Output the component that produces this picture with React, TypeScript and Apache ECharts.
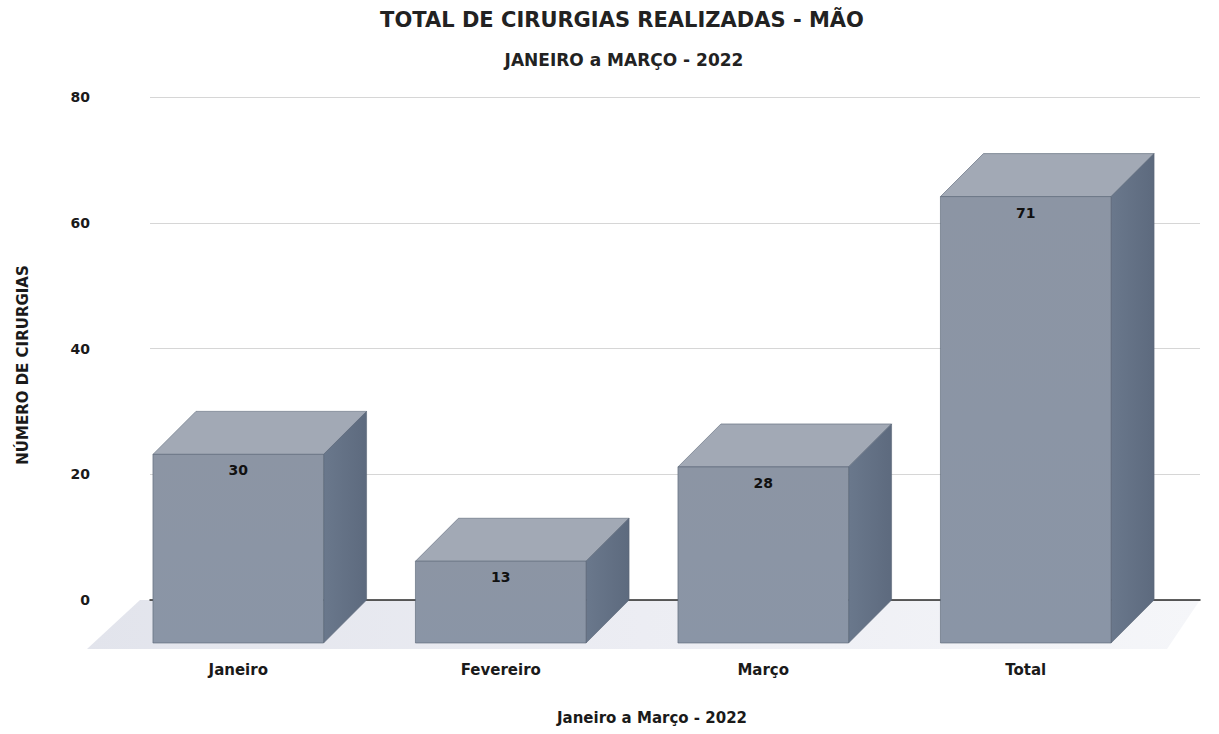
import React, { useEffect, useRef } from "react";
import * as echarts from "echarts";

const categories = ["Janeiro", "Fevereiro", "Março", "Total"];
const values = [30, 13, 28, 71];
const yTicks = [0, 20, 40, 60, 80];

const TITLE = "TOTAL DE CIRURGIAS REALIZADAS - MÃO";
const SUBTITLE = "JANEIRO a MARÇO - 2022";
const X_NAME = "Janeiro a Março - 2022";
const Y_NAME = "NÚMERO DE CIRURGIAS";

const DEPTH = 43;
const HEAVY = '"DejaVu Sans", "Liberation Sans", sans-serif';

export default function App() {
  const ref = useRef<HTMLDivElement>(null);
  useEffect(() => {
    if (!ref.current) return;
    const chart = echarts.init(ref.current, undefined, { renderer: "svg" });
    const option: any = {
      animation: false,
      backgroundColor: "#ffffff",
      grid: { left: 150, right: 19, top: 97, bottom: 134, containLabel: false },
      xAxis: {
        type: "category",
        data: categories,
        axisLine: { show: true, lineStyle: { color: "#2a2a2a", width: 1.5 } },
        axisTick: { show: false },
        axisLabel: { show: false },
        splitLine: { show: false },
      },
      yAxis: {
        type: "value",
        min: yTicks[0],
        max: yTicks[yTicks.length - 1],
        interval: 20,
        axisLine: { show: false },
        axisTick: { show: false },
        axisLabel: {
          margin: 60,
          color: "#1a1a1a",
          fontFamily: HEAVY,
          fontWeight: "bold",
          fontSize: 14,
        },
        splitLine: { lineStyle: { color: "#d6d6d6", width: 1 } },
      },
      graphic: [
        {
          type: "text",
          x: 622,
          y: 20,
          style: {
            text: TITLE,
            font: 'bold 21px ' + HEAVY,
            fill: "#222",
            align: "center",
            verticalAlign: "middle",
            textAlign: "center",
            textVerticalAlign: "middle",
          },
        },
        {
          type: "text",
          x: 624,
          y: 60,
          style: {
            text: SUBTITLE,
            font: 'bold 17px ' + HEAVY,
            fill: "#222",
            align: "center",
            verticalAlign: "middle",
            textAlign: "center",
            textVerticalAlign: "middle",
          },
        },
        {
          type: "text",
          x: 652,
          y: 718,
          style: {
            text: X_NAME,
            font: 'bold 15px ' + HEAVY,
            fill: "#1a1a1a",
            align: "center",
            verticalAlign: "middle",
            textAlign: "center",
            textVerticalAlign: "middle",
          },
        },
        {
          type: "text",
          x: 23,
          y: 365,
          rotation: Math.PI / 2,
          style: {
            text: Y_NAME,
            font: 'bold 15px ' + HEAVY,
            fill: "#1a1a1a",
            align: "center",
            verticalAlign: "middle",
            textAlign: "center",
            textVerticalAlign: "middle",
          },
        },
      ],
      series: [
        {
          type: "custom",
          z: -1,
          silent: true,
          data: [[0, 0]],
          renderItem: (params: any, api: any) => {
            const cs = params.coordSys;
            const y0 = api.coord([0, 0])[1];
            const xl = cs.x - 10;
            const xr = cs.x + cs.width;
            return {
              type: "polygon",
              shape: {
                points: [
                  [xl, y0],
                  [xr, y0],
                  [xr - DEPTH + 10, y0 + DEPTH + 6],
                  [xl - DEPTH - 10, y0 + DEPTH + 6],
                ],
              },
              style: {
                fill: new echarts.graphic.LinearGradient(0, 0, 1, 0, [
                  { offset: 0, color: "#e2e4ec" },
                  { offset: 0.5, color: "#ecedf3" },
                  { offset: 1, color: "#f5f6f9" },
                ]),
                stroke: null,
              },
            };
          },
        },
        {
          type: "custom",
          z: 3,
          data: values.map((v, i) => [i, v]),
          renderItem: (params: any, api: any) => {
            const idx = api.value(0);
            const val = api.value(1);
            const top = api.coord([idx, val]);
            const base = api.coord([idx, 0]);
            const w = api.size([1, 0])[0] * 0.65;
            const bx0 = top[0] - w / 2;
            const bx1 = top[0] + w / 2;
            const fx0 = bx0 - DEPTH;
            const fx1 = bx1 - DEPTH;
            const fyTop = top[1] + DEPTH;
            const fyBot = base[1] + DEPTH;
            const by = top[1];
            const bb = base[1];
            const edge = { stroke: "#596476", lineWidth: 0.6 };
            return {
              type: "group",
              children: [
                {
                  type: "polygon",
                  shape: { points: [[bx0, by], [bx1, by], [fx1, fyTop], [fx0, fyTop]] },
                  style: { fill: "#a2a9b5", ...edge },
                },
                {
                  type: "polygon",
                  shape: { points: [[fx1, fyTop], [bx1, by], [bx1, bb], [fx1, fyBot]] },
                  style: {
                    fill: new echarts.graphic.LinearGradient(0, 0, 1, 0, [
                      { offset: 0, color: "#6a788c" },
                      { offset: 1, color: "#5d6a7e" },
                    ]),
                    ...edge,
                  },
                },
                {
                  type: "rect",
                  shape: { x: fx0, y: fyTop, width: w, height: fyBot - fyTop },
                  style: {
                    fill: new echarts.graphic.LinearGradient(0, 0, 0, 1, [
                      { offset: 0, color: "#8c95a4" },
                      { offset: 1, color: "#8a95a6" },
                    ]),
                    ...edge,
                  },
                },
                {
                  type: "text",
                  x: fx0 + w / 2,
                  y: fyTop + 16,
                  style: {
                    text: String(values[idx]),
                    font: "bold 14px " + HEAVY,
                    fill: "#111",
                    align: "center",
                    verticalAlign: "middle",
                  },
                },
                {
                  type: "text",
                  x: fx0 + w / 2,
                  y: fyBot + 27,
                  style: {
                    text: categories[idx],
                    font: "bold 15px " + HEAVY,
                    fill: "#1a1a1a",
                    align: "center",
                    verticalAlign: "middle",
                  },
                },
              ],
            };
          },
        },
      ],
    };
    chart.setOption(option);
    return () => chart.dispose();
  }, []);
  return <div ref={ref} style={{ width: 1219, height: 734, position: "absolute", left: 0, top: 0 }} />;
}
